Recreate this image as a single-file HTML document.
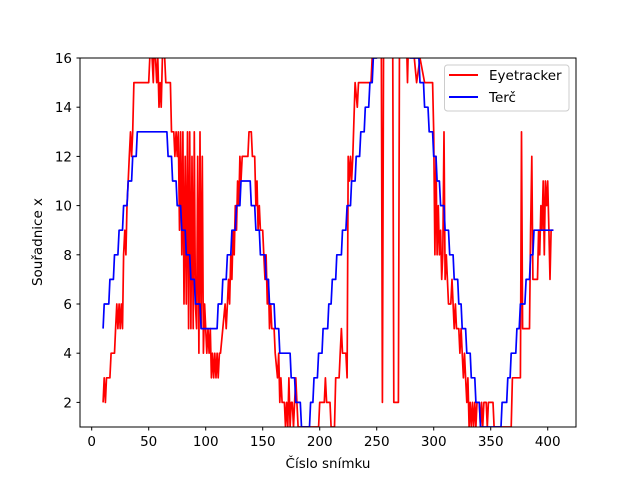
<!DOCTYPE html>
<html><head><meta charset="utf-8"><style>
body{margin:0;background:#fff}
svg text{font-family:"DejaVu Sans","Liberation Sans",sans-serif;font-size:13.5px;fill:#000}
</style></head><body>
<svg id="chart" width="640" height="480" xmlns="http://www.w3.org/2000/svg">
<defs><clipPath id="clip"><rect x="80" y="58" width="496" height="369"/></clipPath></defs>
<rect width="640" height="480" fill="#fff"/>
<g id="series" clip-path="url(#clip)"></g>
<g id="axes"></g>
<rect x="80" y="58" width="496" height="369" fill="none" stroke="#000" stroke-width="1"/>
<text x="328" y="468" text-anchor="middle">Číslo snímku</text>
<text x="0" y="0" transform="translate(42,242) rotate(-90)" text-anchor="middle">Souřadnice x</text>
<g>
<rect x="444.5" y="65" width="124.5" height="46" rx="3" fill="#fff" fill-opacity="0.8" stroke="#ccc"/>
<line x1="449" y1="75" x2="478" y2="75" stroke="red" stroke-width="2"/>
<text x="489" y="80">Eyetracker</text>
<line x1="449" y1="97" x2="478" y2="97" stroke="blue" stroke-width="2"/>
<text x="489" y="102">Terč</text>
</g>
</svg>
<script>
const xTicks=[0,50,100,150,200,250,300,350,400];
const yTicks=[2,4,6,8,10,12,14,16];
// target (Terč): [frame where level starts, level]
const bluePoints=[[10,5],[11,6],[16,7],[20,8],[24,9],[28,10],[32,11],[36,12],[40,13],[67,12],[71,11],[75,10],[79,9],[83,8],[87,7],[91,6],[96,5],[111,6],[115,7],[119,8],[123,9],[127,10],[131,11],[140,10],[144,9],[148,8],[153,7],[156,6],[161,5],[165,4],[175,3],[179,2],[184,1],[192,2],[195,3],[199,4],[203,5],[208,6],[211,7],[215,8],[220,9],[224,10],[228,11],[232,12],[236,13],[240,14],[244,15],[247,16],[251,17],[279,16],[288,15],[292,14],[296,13],[300,12],[303,11],[306,10],[310,9],[314,8],[318,7],[322,6],[325,5],[329,4],[333,3],[337,2],[341,1],[360,2],[365,3],[368,4],[373,5],[376,6],[381,7],[385,8],[388,9],[405,9]];
// eyetracker: [frame, value]
const redPoints=[[10,2],[11,3],[12,2],[13,3],[16,3],[17,4],[20,4],[21,5],[22,6],[23,5],[24,6],[25,5],[26,6],[27,5],[28,8],[29,9],[30,8],[31,10],[32,11],[33,12],[34,13],[35,12],[36,13],[37,15],[50,15],[51,16],[52,17],[53,16],[54,15],[55,17],[56,16],[57,15],[58,16],[59,14],[60,15],[61,14],[62,16],[63,17],[64,16],[65,15],[69,15],[70,13],[72,13],[73,12],[74,13],[75,12],[76,13],[77,9],[78,13],[79,8],[80,13],[81,6],[82,12],[83,6],[84,13],[85,5],[86,13],[87,5],[88,12],[89,5],[90,13],[91,6],[92,5],[93,12],[94,4],[95,13],[96,5],[97,12],[98,4],[99,6],[100,5],[101,4],[102,5],[103,4],[104,5],[105,3],[106,4],[107,3],[108,4],[109,3],[110,4],[111,3],[112,4],[113,4],[115,5],[117,6],[118,5],[119,6],[120,7],[121,6],[122,8],[123,7],[124,9],[125,8],[126,10],[127,9],[128,11],[129,10],[130,12],[131,11],[132,12],[137,12],[138,13],[140,13],[141,12],[143,12],[144,10],[145,11],[146,9],[147,10],[148,9],[150,9],[151,8],[152,7],[153,8],[154,6],[155,7],[156,5],[157,6],[158,5],[160,5],[161,4],[163,3],[164,4],[165,2],[166,3],[167,2],[169,2],[170,1],[171,2],[172,1],[173,3],[174,1],[175,2],[176,2],[177,1],[178,2],[179,3],[180,2],[181,1],[183,1],[199,1],[200,2],[204,2],[205,3],[206,2],[209,2],[210,1],[213,1],[214,3],[217,3],[218,4],[219,5],[220,4],[223,4],[224,3],[225,12],[226,11],[227,12],[228,11],[229,12],[231,15],[233,14],[234,15],[245,15],[247,17],[254,17],[255,2],[256,17],[264,17],[265,2],[269,2],[270,17],[276,17],[277,15],[278,17],[282,17],[283,16],[285,15],[288,16],[292,15],[296,15],[299,15],[300,13],[301,8],[302,12],[303,8],[304,10],[305,8],[306,9],[307,7],[308,8],[309,13],[310,7],[311,8],[312,7],[313,6],[315,6],[316,7],[317,6],[318,5],[319,6],[320,5],[322,5],[323,4],[324,5],[325,4],[326,3],[327,4],[328,3],[329,2],[330,3],[331,1],[332,2],[333,1],[334,2],[335,1],[336,2],[337,1],[338,2],[340,2],[341,1],[342,2],[343,1],[344,2],[346,2],[347,1],[348,2],[352,2],[353,1],[368,1],[369,3],[376,3],[377,13],[378,5],[384,5],[385,9],[386,12],[387,7],[391,7],[392,9],[393,8],[394,10],[395,9],[396,11],[397,8],[398,11],[399,10],[400,11],[401,9],[402,7],[403,9],[405,9]];
const NS='http://www.w3.org/2000/svg';
function xs(f){return 80+(f+10.26)*496/435.06;}
function ys(v){return 58+(16-v)*369/15;}
const axes=document.getElementById('axes');
const series=document.getElementById('series');
function mk(tag,attrs,parent){const e=document.createElementNS(NS,tag);for(const k in attrs)e.setAttribute(k,attrs[k]);parent.appendChild(e);return e;}
xTicks.forEach(t=>{
  const X=xs(t);
  const l=mk('line',{x1:X,y1:427,x2:X,y2:430.5,stroke:'#000'},axes);
  
  
  const tx=mk('text',{x:X,y:446,'text-anchor':'middle'},axes);tx.textContent=t;
  
  
});
yTicks.forEach(t=>{
  const Y=ys(t);
  const l=mk('line',{x1:76.5,y1:Y,x2:80,y2:Y,stroke:'#000'},axes);
  
  
  const tx=mk('text',{x:72,y:Y+5,'text-anchor':'end'},axes);tx.textContent=t;
  
  
});
let rp='';redPoints.forEach((p,i)=>{rp+=(i?'L':'M')+xs(p[0]).toFixed(1)+' '+ys(p[1]).toFixed(1);});
const red=mk('path',{d:rp,fill:'none',stroke:'red','stroke-width':1.7,'stroke-linejoin':'round'},series);


let bp='';bluePoints.forEach((p,i)=>{
  if(i===0){bp+='M'+xs(p[0]).toFixed(1)+' '+ys(p[1]).toFixed(1);}
  else{bp+='L'+xs(p[0]-1).toFixed(1)+' '+ys(bluePoints[i-1][1]).toFixed(1)+'L'+xs(p[0]).toFixed(1)+' '+ys(p[1]).toFixed(1);}
});
const blue=mk('path',{d:bp,fill:'none',stroke:'blue','stroke-width':1.7,'stroke-linejoin':'round'},series);


</script>
</body></html>
